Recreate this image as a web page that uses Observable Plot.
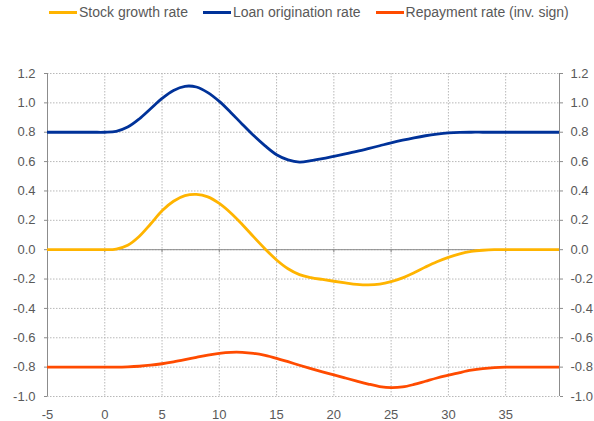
<!DOCTYPE html>
<html>
<head>
<meta charset="utf-8">
<script src="https://cdn.jsdelivr.net/npm/d3@7"></script>
<script src="https://cdn.jsdelivr.net/npm/@observablehq/plot@0.6"></script>
<style>
  body { margin: 0; background: #fff; }
  #wrap { position: relative; width: 594px; height: 421px; font-family: "Liberation Sans", Arial, sans-serif; }
  #legend { position: absolute; left: 49px; top: 4px; display: flex; align-items: center; font-size: 14px; color: #595959; white-space: nowrap; }
  .item { display: flex; align-items: center; margin-right: 15px; }
  .sw { width: 28px; height: 3px; margin-right: 2px; }
  #chart { position: absolute; left: 0; top: 0; }
</style>
</head>
<body>
<div id="wrap">
  <div id="chart"></div>
  <div id="legend"></div>
</div>
<script>
const xValues = [-5,-4,-3,-2,-1,0,1,2,3,4,5,6,7,8,9,10,11,12,13,14,15,16,17,18,19,20,21,22,23,24,25,26,27,28,29,30,31,32,33,34,35,36,37,38,39,40];
const stockGrowth = [0,0,0,0,0,0,0.004,0.03,0.09,0.175,0.265,0.33,0.368,0.377,0.36,0.315,0.25,0.172,0.087,0.005,-0.07,-0.13,-0.17,-0.19,-0.203,-0.215,-0.226,-0.236,-0.24,-0.235,-0.218,-0.192,-0.157,-0.118,-0.082,-0.052,-0.028,-0.012,-0.004,0,0,0,0,0,0,0];
const loanOrigination = [0.8,0.8,0.8,0.8,0.8,0.8,0.806,0.835,0.89,0.96,1.03,1.085,1.113,1.108,1.07,1.01,0.935,0.855,0.777,0.707,0.647,0.612,0.597,0.606,0.62,0.636,0.652,0.669,0.688,0.708,0.728,0.746,0.762,0.776,0.787,0.795,0.799,0.8,0.8,0.8,0.8,0.8,0.8,0.8,0.8,0.8];
const repayment = [-0.8,-0.8,-0.8,-0.8,-0.8,-0.8,-0.8,-0.798,-0.794,-0.787,-0.777,-0.764,-0.749,-0.733,-0.718,-0.706,-0.699,-0.699,-0.706,-0.72,-0.74,-0.763,-0.787,-0.81,-0.832,-0.853,-0.874,-0.895,-0.915,-0.932,-0.94,-0.935,-0.918,-0.896,-0.874,-0.855,-0.837,-0.821,-0.81,-0.803,-0.8,-0.8,-0.8,-0.8,-0.8,-0.8];

const seriesNames = ["Stock growth rate", "Loan origination rate", "Repayment rate (inv. sign)"];
const seriesColors = ["#FFB400", "#003299", "#FF4B00"];
const xTicks = [-5,0,5,10,15,20,25,30,35];
const yTicks = [-1.0,-0.8,-0.6,-0.4,-0.2,0.0,0.2,0.4,0.6,0.8,1.0,1.2];
const xDomain = [-5, 39.7];
const yDomain = [-1.0, 1.2];

const allSeries = [stockGrowth, loanOrigination, repayment];
const data = [];
allSeries.forEach((vals, si) => {
  vals.forEach((v, i) => data.push({x: xValues[i], y: v, s: seriesNames[si]}));
});

const gridStyle = {stroke: "#b8b8b8", strokeOpacity: 1, strokeDasharray: "1.5,1.5", strokeWidth: 1};

const chart = Plot.plot({
  width: 594,
  height: 421,
  marginLeft: 47,
  marginRight: 35,
  marginTop: 73,
  marginBottom: 25,
  style: {fontFamily: "'Liberation Sans', Arial, sans-serif", fontSize: "13px", color: "#595959", background: "#fff"},
  x: {domain: xDomain},
  y: {domain: yDomain},
  color: {domain: seriesNames, range: seriesColors},
  marks: [
    Plot.gridX(xTicks.slice(1), gridStyle),
    Plot.gridY(yTicks, gridStyle),
    Plot.ruleX(xDomain, {stroke: "#8c8c8c", strokeWidth: 1}),
    Plot.ruleY([0], {stroke: "#8c8c8c", strokeWidth: 1}),
    Plot.ruleX(xTicks, {x: d => d, y1: 0, y2: -0.022, stroke: "#8c8c8c"}),
    Plot.axisY({anchor: "left", ticks: yTicks, tickSize: 3, tickPadding: 9, tickFormat: d => d.toFixed(1), stroke: "#8c8c8c", label: null}),
    Plot.axisY({anchor: "right", ticks: yTicks, tickSize: 3, tickPadding: 8, tickFormat: d => d.toFixed(1), stroke: "#8c8c8c", label: null}),
    Plot.axisX({anchor: "bottom", ticks: xTicks, tickSize: 0, tickPadding: 13, tickFormat: d => String(d), label: null}),
    Plot.line(data, {x: "x", y: "y", z: "s", stroke: "s", strokeWidth: 2.8, curve: "catmull-rom", clip: true})
  ]
});
document.getElementById("chart").appendChild(chart);

const legend = document.getElementById("legend");
seriesNames.forEach((name, i) => {
  const item = document.createElement("div");
  item.className = "item";
  const sw = document.createElement("div");
  sw.className = "sw";
  sw.style.background = seriesColors[i];
  const label = document.createElement("span");
  label.textContent = name;
  item.appendChild(sw);
  item.appendChild(label);
  legend.appendChild(item);
});
</script>
</body>
</html>
